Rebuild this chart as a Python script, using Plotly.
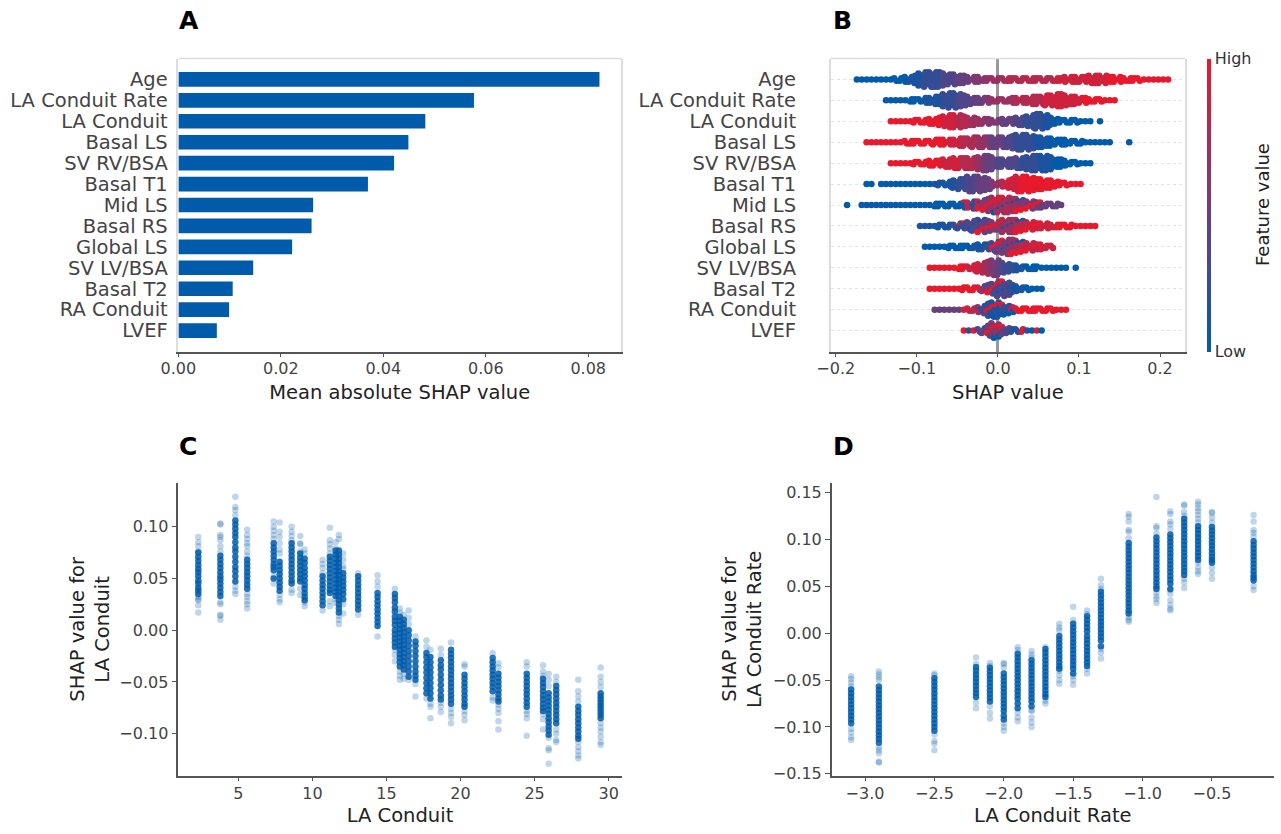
import plotly.graph_objects as go

W, H = 1281, 834
FEATURES = ["Age", "LA Conduit Rate", "LA Conduit", "Basal LS", "SV RV/BSA", "Basal T1", "Mid LS",
            "Basal RS", "Global LS", "SV LV/BSA", "Basal T2", "RA Conduit", "LVEF"]
MEAN_ABS = [0.0822, 0.0577, 0.0482, 0.0449, 0.0421, 0.0370, 0.0263, 0.0260, 0.0222, 0.0146, 0.0106, 0.0099, 0.0075]

# Panel B: shared SHAP bins (x 1000), and for every feature the point count and feature level (0-9) per bin
SHAP_BINS = [-186,-180,-174,-168,-162,-156,-150,-144,-138,-132,
             -126,-120,-114,-108,-102,-96,-90,-84,-78,-72,
             -66,-60,-54,-48,-42,-36,-30,-24,-18,-12,
             -6,0,6,12,18,24,30,36,42,48,
             54,60,66,72,78,84,90,96,102,108,
             114,120,126,132,138,144,150,156,162,168,
             174,180,186,192,198,204,210]
N_AGE = [0,0,1,1,1,1,1,1,1,1, 2,2,3,3,4,6,7,7,7,7, 6,5,5,4,4,3,3,3,2,2, 2,2,2,2,2,2,2,2,2,2,
         2,2,2,2,2,3,3,3,3,3, 4,4,4,4,3,3,3,2,2,2, 2,1,1,1,1,1,1]
C_AGE = [0,0,0,0,0,0,0,0,0,0, 0,0,0,1,1,1,2,2,2,2, 3,3,3,4,4,4,5,5,5,6, 6,6,6,7,7,7,7,7,7,7,
         7,7,7,8,8,8,8,8,8,8, 8,8,8,8,9,9,9,9,9,9, 9,9,9,9,9,9,9]
N_RATE = [0,0,0,0,0,0,0,0,1,1, 1,1,1,2,2,2,3,3,4,4, 6,7,7,6,5,4,3,3,3,3, 2,2,2,2,3,3,3,3,4,4,
          4,5,5,6,6,5,4,4,3,3, 2,2,2,1,1,1]
C_RATE = [0,0,0,0,0,0,0,0,0,0, 0,0,0,0,0,0,1,1,1,1, 2,2,2,3,3,3,4,4,4,5, 6,6,6,6,6,7,7,7,7,7,
          7,8,8,8,8,8,8,8,8,9, 9,9,9,9,9,9]
N_COND = [0,0,0,0,0,0,0,0,0,1, 1,1,1,1,2,2,2,3,3,4, 5,6,6,6,5,4,4,3,3,3, 2,2,3,3,3,4,4,5,6,7,
          7,6,4,3,2,2,2,2,1,1, 1,0,1]
C_COND = [9,9,9,9,9,9,9,9,9,9, 9,9,9,9,9,9,9,9,9,9, 8,8,8,7,7,7,6,6,6,5, 5,5,4,4,4,3,3,2,2,2,
          2,1,1,0,0,0,0,0,0,0, 0,0,0]
N_BLS = [0,0,0,0,1,1,1,1,1,1, 1,1,2,2,2,2,2,2,3,3, 3,3,3,4,4,4,5,5,5,5, 5,5,5,5,6,7,7,7,6,5,
         5,4,4,3,3,3,2,2,2,1, 1,1,1,1,1,0,0,0,1]
C_BLS = [9,9,9,9,9,9,9,9,9,9, 9,9,9,9,9,9,9,9,9,9, 9,8,8,8,7,7,7,6,6,5, 4,4,4,3,3,2,2,2,2,1,
         1,1,0,0,0,0,0,0,0,0, 0,0,0,0,0,0,0,0,0]
N_SVRV = [0,0,0,0,0,0,0,0,0,1, 1,1,1,1,2,2,2,3,3,3, 4,4,5,5,5,5,5,6,7,7, 6,4,4,4,4,5,5,6,7,7,
          7,7,6,4,4,3,2,2,1,1, 1]
C_SVRV = [9,9,9,9,9,9,9,9,9,9, 9,9,9,9,9,9,9,9,9,9, 8,8,8,8,7,7,7,6,5,4, 4,3,3,3,3,3,2,2,2,2,
          1,1,1,0,0,0,0,0,0,0, 0]
N_BT1 = [0,0,0,0,1,1,0,1,1,1, 1,1,1,1,1,1,1,1,1,2, 2,3,4,5,5,7,7,7,6,5, 3,2,3,4,5,7,7,7,6,5,
         5,4,4,3,2,2,1,1,1]
C_BT1 = [0,0,0,0,0,0,0,0,0,0, 0,0,0,0,0,0,0,0,1,1, 1,1,1,2,2,3,3,4,4,4, 5,6,7,8,8,8,9,9,9,9,
         9,9,9,9,9,9,9,9,9]
N_MLS = [1,0,0,1,1,1,1,1,1,1, 1,1,1,1,1,1,1,1,2,2, 2,2,2,2,3,3,4,4,5,6, 7,7,7,7,6,6,5,4,4,3,
         3,2,2,2,1]
C_MLS = [0,0,0,0,0,0,0,0,0,0, 0,0,0,0,0,0,0,0,0,0, 0,0,0,0,1,7,2,8,6,5, 6,7,6,7,6,6,5,5,5,4,
         4,4,4,4,4]
N_BRS = [0,0,0,0,0,0,0,0,0,0, 0,0,0,0,0,1,1,1,1,2, 2,2,2,3,3,4,5,6,6,5, 4,4,6,6,6,6,5,4,4,3,
         3,3,2,2,2,2,2,1,1,1, 1,1]
C_BRS = [0,0,0,0,0,0,0,0,0,0, 0,0,0,0,0,1,1,1,1,1, 1,1,2,2,2,3,3,3,4,4, 5,5,6,6,6,7,7,7,8,8,
         8,8,8,8,9,9,9,9,9,9, 9,9]
N_GLS = [0,0,0,0,0,0,0,0,0,0, 0,0,0,0,0,0,1,1,1,1, 1,2,2,2,2,2,2,3,3,3, 4,5,6,7,7,6,5,4,4,3,
         3,2,2]
C_GLS = [0,0,0,0,0,0,0,0,0,0, 0,0,0,0,0,0,0,0,0,0, 0,0,0,0,0,0,1,1,1,2, 3,4,5,5,6,6,7,7,7,7,
         8,8,8]
N_SVLV = [0,0,0,0,0,0,0,0,0,0, 0,0,0,0,0,0,0,1,1,1, 1,1,1,2,2,2,3,4,5,6, 7,7,5,4,3,3,2,2,2,2,
          1,1,1,1,1,1,0,1]
C_SVLV = [9,9,9,9,9,9,9,9,9,9, 9,9,9,9,9,9,9,9,9,9, 9,9,9,9,9,8,8,8,7,6, 5,4,3,2,2,1,1,0,0,0,
          0,0,0,0,0,0,0,0]
N_BT2 = [0,0,0,0,0,0,0,0,0,0, 0,0,0,0,0,0,0,1,1,1, 1,1,1,1,2,2,2,2,3,4, 5,7,7,6,4,3,2,2,1,1,
         1]
C_BT2 = [9,9,9,9,9,9,9,9,9,9, 9,9,9,9,9,9,9,9,9,9, 9,9,9,9,9,9,9,8,6,4, 3,3,3,3,2,1,1,0,0,0,
         0]
N_RA = [0,0,0,0,0,0,0,0,0,0, 0,0,0,0,0,0,0,0,1,1, 1,1,1,1,1,2,2,3,4,6, 7,7,5,4,3,2,2,2,2,2,
        2,2,2,1,1,1]
C_RA = [4,4,4,4,4,4,4,4,4,4, 4,4,4,4,4,4,4,4,4,4, 4,4,4,4,8,8,7,6,3,2, 1,1,2,2,6,9,9,9,9,9,
        9,9,9,9,9,9]
N_LVEF = [0,0,0,0,0,0,0,0,0,0, 0,0,0,0,0,0,0,0,0,0, 0,0,0,0,1,1,1,2,3,5, 7,6,4,3,2,2,2,1,1,1,
          1]
C_LVEF = [9,9,9,9,9,9,9,9,9,9, 9,9,9,9,9,9,9,9,9,9, 9,9,9,9,9,1,9,3,4,4, 5,5,4,3,2,1,8,2,0,8,
          0]
SWARM_COUNTS = [N_AGE, N_RATE, N_COND, N_BLS, N_SVRV, N_BT1, N_MLS, N_BRS, N_GLS, N_SVLV, N_BT2, N_RA, N_LVEF]
SWARM_LEVELS = [C_AGE, C_RATE, C_COND, C_BLS, C_SVRV, C_BT1, C_MLS, C_BRS, C_GLS, C_SVLV, C_BT2, C_RA, C_LVEF]
SWARM_MIXED = [0, 0, 0, 0, 0, 0, 1, 1, 1, 0, 1, 1, 1]

# Panel C: SHAP values (x 1000) per LA Conduit column; light points and the dense core of each column
C_X = [2.30,3.79,4.80,5.60,7.39,7.79,8.60,9.18,9.48,10.69,11.18,11.57,11.79,12.08,13.09,14.40,15.57,15.90,16.17,
       16.50,16.96,17.70,17.97,18.67,19.36,20.27,22.17,22.56,24.47,25.57,25.95,26.46,27.95,29.46]
C_LIGHT = [[90,85,81,76,32,30,29,24,17],[103,102,92,90,87,81,76,27,25,15,14,10],[129,119,116,111,42,38,35],
  [97,92,88,84,81,76,72,35,32,28,25,21],[105,100,96,92,88,52,45],[104,95,90,84,78,74,34,30,27],[100,95,91,87,39,36],
  [91,84,83,76,40,34],[78,74,27,23],[68,64,60,55,19],[99,87,83,79,74,28,23],[85,79,30,26],[92,88,14,10,6],
  [74,68,62,59,25,16],[55,15],[53,47,42,-6],[40,-19,-24,-30],[21,17,-40,-44,-48],[15,-42,-47],[19,12,6,-48],
  [-6,-52,-64],[-10,-16,-66],[-19,-71,-74,-85],[-18,-24,-70,-74,-79],[-12,-76,-80,-84,-90],[-33,-35,-78,-82,-87],
  [-22,-65,-68],[-32,-36,-72,-76,-80,-88,-96],[-31,-35,-78,-81,-85,-102],[-34,-40,-44,-81,-86,-96],
  [-42,-48,-54,-104,-114,-116,-129],[-45,-50,-96,-100,-106,-108],[-48,-59,-64,-69,-108,-113,-117,-121,-124],
  [-36,-45,-50,-55,-90,-94,-98,-103,-108,-111]]
C_CORE = [[75,71,67,63,59,56,52,48,45,41,38,35],[72,68,64,60,56,52,49,45,41,37,33],[106,102,98,94,90,85,80,76,71,66,61,57,52,47],
  [68,64,60,56,52,48,44,40],[84,80,76,72,68,64,61,58,50],[66,62,58,54,50,46,42,38],[84,80,76,72,68,64,60,56,52,48,45],
  [74,70,66,62,58,54,50,47],[69,65,60,56,52,48,44,40,36,32,29],[52,48,44,40,36,32,28,24],[71,67,63,59,55,51,47,43,39,36],
  [77,73,69,65,61,57,53,49,45,41,37,33],[77,73,69,65,61,57,53,49,45,41,37,33,29,25,21,17],[55,51,47,43,39,35,30],
  [52,48,44,40,36,32,28,24,20],[36,32,28,24,20,16,12,8,4],[35,31,27,22,18,13,9,5,0,-4,-8,-12,-16],
  [13,9,5,1,-3,-7,-11,-15,-19,-23,-27,-31,-35],[10,6,2,-2,-6,-10,-14,-18,-22,-26,-30,-34,-38],
  [0,-5,-10,-15,-20,-25,-30,-35,-40,-45],[-11,-15,-20,-25,-30,-35,-40,-44,-48],[-22,-26,-31,-36,-41,-46,-51,-56,-61],
  [-26,-31,-36,-41,-46,-51,-56,-61,-66],[-29,-34,-38,-43,-48,-53,-58,-63,-67],
  [-19,-23,-27,-31,-35,-39,-43,-47,-51,-55,-59,-63,-67,-71],[-43,-47,-51,-55,-59,-63,-67,-71,-74],
  [-27,-31,-35,-39,-43,-47,-51,-55,-59],[-42,-46,-50,-54,-58,-62,-66,-69],[-42,-46,-50,-54,-58,-62,-66,-70,-74],
  [-47,-51,-55,-59,-63,-67,-71,-75,-78],[-61,-65,-69,-73,-77,-81,-85,-89,-93,-97,-101],
  [-54,-58,-62,-66,-70,-74,-78,-82,-86,-90],[-74,-78,-82,-86,-90,-94,-98,-102,-105],[-61,-64,-67,-70,-73,-76,-79,-82,-85]]

# Panel D: same layout per LA Conduit Rate column
D_X = [-3.1,-2.9,-2.5,-2.2,-2.1,-2.0,-1.9,-1.8,-1.7,-1.6,-1.5,-1.4,-1.3,-1.1,-0.9,-0.8,-0.7,-0.6,-0.5,-0.2]
D_LIGHT = [[-46,-49,-53,-57,-102,-106,-111,-114],[-41,-44,-47,-50,-122,-125,-128,-137,-138],[-43,-45,-108,-115,-118,-125],
  [-26,-33,-74,-80],[-32,-35,-78,-85,-91],[-32,-33,-37,-96,-100,-104],[-15,-18,-85,-90,-94],[-19,-23,-26,-82,-83,-90,-95,-100],
  [-15,-72,-75],[10,6,3,-40,-45,-50,-54],[28,14,-46,-50,-55],[24,20,-38,-43],[58,51,47,-17,-21,-27],
  [127,124,119,110,108,101,17,14,12],[145,114,112,106,43,39,36,32],[130,127,119,116,111,46,42,35,30,26,24],
  [137,136,129,125,58,54,48],[140,137,133,130,126,122,118,75,70,66,63],[129,128,123,118,70,64,58],[126,119,110,107,103,50,46]]
D_CORE = [[-60,-64,-68,-72,-76,-80,-84,-88,-92,-96],
  [-57,-61,-65,-69,-73,-77,-81,-85,-89,-93,-97,-101,-105,-109,-113,-117],
  [-48,-52,-56,-60,-64,-68,-72,-76,-80,-84,-88,-92,-96,-100,-104],
  [-36,-40,-44,-48,-52,-56,-60,-64,-68],[-37,-41,-45,-49,-53,-57,-61,-65,-69,-73],
  [-43,-47,-51,-55,-59,-63,-67,-71,-75,-79,-83,-88,-92],[-22,-26,-30,-34,-38,-42,-46,-50,-54,-58,-62,-66,-70,-75,-80],
  [-29,-33,-37,-41,-45,-49,-53,-57,-61,-65,-69,-73,-78],[-17,-21,-25,-29,-33,-37,-41,-45,-49,-53,-57,-61,-65,-68],
  [-3,-7,-11,-15,-19,-23,-27,-31,-35,-38],[10,6,2,-2,-6,-10,-14,-18,-22,-26,-30,-34,-38,-43],
  [18,14,10,6,2,-3,-7,-11,-15,-19,-23,-27,-31,-35],[44,40,36,32,28,24,20,16,12,8,4,0,-4,-8,-14],
  [96,92,88,84,80,76,72,68,64,60,56,52,48,44,40,36,32,28,24,21],
  [102,98,94,90,86,82,78,74,70,66,62,58,54,50,47],[105,101,97,93,89,85,81,77,73,69,65,61,57,53,47],
  [122,118,114,110,106,102,98,94,90,86,82,78,74,70,66,62],[114,110,106,102,98,94,90,86,82,78],
  [113,109,105,101,97,93,89,85,81,78,75],[98,94,90,86,82,78,74,70,66,62,59,56]]

BLUE = "#005bab"
TICK = "#444444"
SPINE = "#555555"
FRAME = "#dddddd"
FONT = "DejaVu Sans"
SCALE = [[0, BLUE], [0.5, "#733c7a"], [1, "#e8192c"]]


def dom_x(a, b):
    return [a / W, b / W]


def dom_y(top, bottom):
    return [1 - bottom / H, 1 - top / H]


fig = go.Figure()
fig.add_trace(go.Bar(x=MEAN_ABS, y=list(range(13)), orientation="h", width=0.7, marker=dict(color=BLUE, line=dict(width=0)),
                     xaxis="x", yaxis="y", showlegend=False))

# Stack each bin's points around its row and spread them over the bin width, as a SHAP beeswarm does
SPREAD = [-2, 1, -1, 2, 0]
sx, sy, sc = [], [], []
for row, (counts, levels, mixed) in enumerate(zip(SWARM_COUNTS, SWARM_LEVELS, SWARM_MIXED)):
    for b, (x, n, c) in enumerate(zip(SHAP_BINS, counts, levels)):
        for k in range(n):
            lvl = c
            if mixed and n >= 3 and (k + b) % 4 == 0:
                lvl = 0 if (k + b) % 8 else 9
            sx.append((x + (SPREAD[(k + b) % 5] if n > 1 else 0)) / 1000)
            sy.append(row + (k - (n - 1) / 2) * 0.115)
            sc.append(lvl / 9)
fig.add_trace(go.Scatter(
    x=sx, y=sy, mode="markers", xaxis="x2", yaxis="y2", showlegend=False,
    marker=dict(size=6.5, color=sc, colorscale=SCALE, cmin=0, cmax=1, line=dict(width=0),
                colorbar=dict(x=1207 / W, xanchor="left", xpad=0, y=1 - 351.7 / H, yanchor="bottom", ypad=0,
                              len=292.7 / H, lenmode="fraction", thickness=4, outlinewidth=0,
                              tickvals=[0, 1], ticktext=["Low", "High"], ticks="", tickfont=dict(size=16, color="#333333"))),
))


def columns(xs, lists):
    px, py = [], []
    for x, vals in zip(xs, lists):
        for v in vals:
            px.append(x)
            py.append(v / 1000)
    return px, py


for xs, light, core, xa, ya in [(C_X, C_LIGHT, C_CORE, "x3", "y3"), (D_X, D_LIGHT, D_CORE, "x4", "y4")]:
    px, py = columns(xs, light)
    fig.add_trace(go.Scatter(x=px, y=py, mode="markers", xaxis=xa, yaxis=ya, showlegend=False,
                             marker=dict(size=6.5, color=BLUE, opacity=0.25, line=dict(width=0))))
    px, py = columns(xs, core)
    fig.add_trace(go.Scatter(x=px, y=py, mode="markers", xaxis=xa, yaxis=ya, showlegend=False,
                             marker=dict(size=6.5, color=BLUE, opacity=0.85, line=dict(width=0))))

axis_font = dict(size=16, color=TICK, family=FONT)
title_font = dict(size=19.5, color="#222222", family=FONT)
cat_font = dict(size=19.5, color=TICK, family=FONT)
xcommon = dict(showgrid=False, zeroline=False, showline=True, linecolor=SPINE, linewidth=1.5, ticks="outside",
               ticklen=4, tickcolor=SPINE, tickwidth=1.2, tickfont=axis_font, ticklabelstandoff=-2)
ycommon = dict(showgrid=False, zeroline=False, showline=True, linecolor=SPINE, linewidth=1.5, ticks="outside",
               ticklen=5, tickcolor=SPINE, tickwidth=1.2, tickfont=axis_font)

fig.update_layout(
    width=W, height=H, margin=dict(l=0, r=0, t=0, b=0, autoexpand=False), paper_bgcolor="white", plot_bgcolor="white",
    font=dict(family=FONT), showlegend=False,
    xaxis=dict(**xcommon, domain=dom_x(178.4, 621), range=[0, 0.0864], tickvals=[0, 0.02, 0.04, 0.06, 0.08], tickformat=".2f",
               title=dict(text="Mean absolute SHAP value", font=title_font, standoff=8), anchor="y"),
    yaxis=dict(domain=dom_y(58.5, 351.5), range=[13, -1], tickvals=list(range(13)), ticktext=FEATURES, tickfont=cat_font,
               ticklabelstandoff=5, showgrid=False, zeroline=False, showline=True, linecolor=FRAME, linewidth=1.5,
               mirror=True, ticks="", anchor="x"),
    xaxis2=dict(**{**xcommon, "zeroline": True, "zerolinecolor": "#999999", "zerolinewidth": 2.5},
                domain=dom_x(830.7, 1185), range=[-0.2062, 0.2308], tickvals=[-0.2, -0.1, 0, 0.1, 0.2], tickformat=".1f",
                title=dict(text="SHAP value", font=title_font, standoff=8), anchor="y2"),
    yaxis2=dict(domain=dom_y(58.5, 351.5), range=[13, -1], tickvals=list(range(13)), ticktext=FEATURES, tickfont=cat_font,
                ticklabelstandoff=29, showgrid=True, gridcolor="#e4e4e4", griddash="dot", gridwidth=1, zeroline=False,
                showline=True, linecolor=FRAME, linewidth=1.5, mirror=True, ticks="", anchor="x2"),
    xaxis3=dict(**xcommon, domain=dom_x(178.3, 621.7), range=[0.95, 30.88], tickvals=[5, 10, 15, 20, 25, 30],
                title=dict(text="LA Conduit", font=title_font, standoff=7), anchor="y3"),
    yaxis3=dict(**ycommon, domain=dom_y(483, 775.7), range=[-0.1406, 0.1422], tickvals=[-0.1, -0.05, 0, 0.05, 0.1], tickformat=".2f",
                title=dict(text="SHAP value for<br>LA Conduit", font=title_font, standoff=4), anchor="x3"),
    xaxis4=dict(**xcommon, domain=dom_x(831.7, 1274), range=[-3.24, -0.053], tickvals=[-3, -2.5, -2, -1.5, -1, -0.5], tickformat=".1f",
                title=dict(text="LA Conduit Rate", font=title_font, standoff=7), anchor="y4"),
    yaxis4=dict(**ycommon, domain=dom_y(483, 775.7), range=[-0.152, 0.16], tickvals=[-0.15, -0.1, -0.05, 0, 0.05, 0.1, 0.15], tickformat=".2f",
                title=dict(text="SHAP value for<br>LA Conduit Rate", font=title_font, standoff=6), anchor="x4"),
    shapes=[dict(type="line", xref="x domain", yref="y domain", x0=0, x1=1, y0=1, y1=1, line=dict(color=FRAME, width=1.5)),
            dict(type="line", xref="x2 domain", yref="y2 domain", x0=0, x1=1, y0=1, y1=1, line=dict(color=FRAME, width=1.5))],
    annotations=[dict(text=f"<b>{t}</b>", x=x / W, y=1 - y / H, xref="paper", yref="paper", xanchor="left", yanchor="middle",
                      showarrow=False, font=dict(size=25, color="black", family=FONT))
                 for t, x, y in [("A", 177, 21), ("B", 831, 21), ("C", 177, 446), ("D", 831, 446)]]
    + [dict(text="Feature value", x=1262 / W, y=1 - 205 / H, xref="paper", yref="paper", textangle=-90, showarrow=False,
            xanchor="center", yanchor="middle", font=dict(size=18, color="#222222", family=FONT))],
)
fig.write_html("out.html", config={"displayModeBar": False},
               post_script="document.body.style.margin='0';")
